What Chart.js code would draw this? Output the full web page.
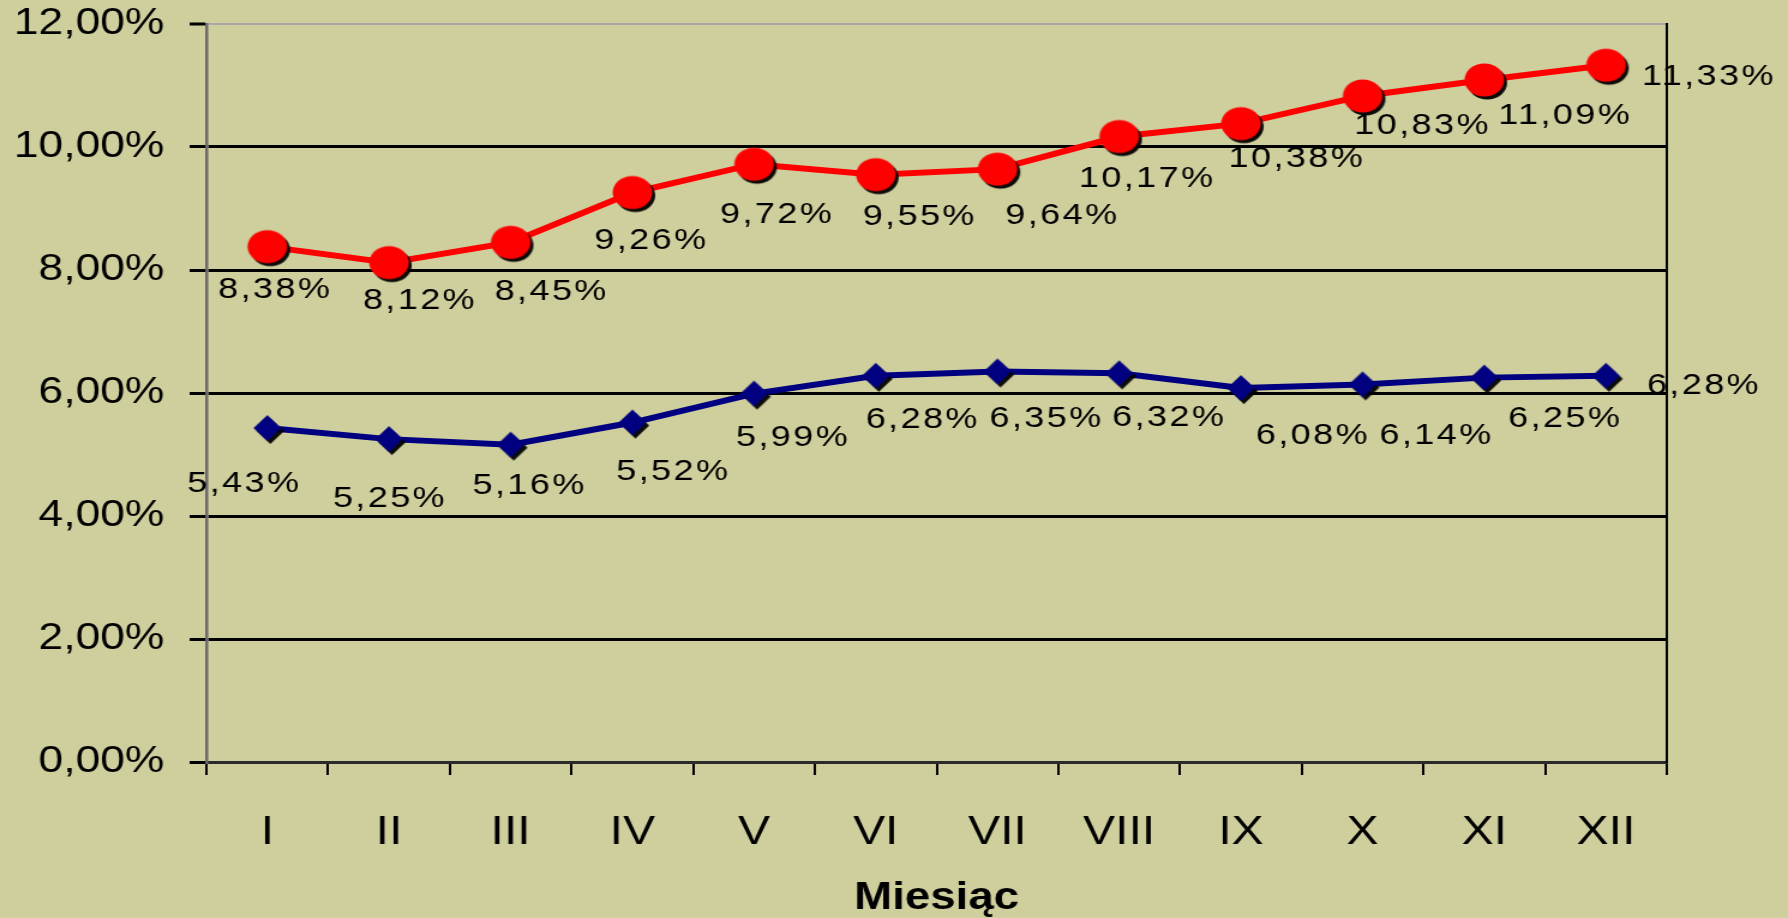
<!DOCTYPE html>
<html>
<head>
<meta charset="utf-8">
<script src="https://cdn.jsdelivr.net/npm/chart.js@4.4.0/dist/chart.umd.min.js"></script>
<style>
  html, body { margin: 0; padding: 0; background: #cfcf9e; overflow: hidden; }
  /* the source picture is stretched sideways, so the chart is drawn narrow and widened here */
  #wrap { width: 1490px; height: 918px; transform: scaleX(1.2); transform-origin: 0 0; }
  #chart { display: block; }
</style>
</head>
<body>
<div id="wrap"><canvas id="chart" width="1490" height="918"></canvas></div>
<script>
const months = ['I', 'II', 'III', 'IV', 'V', 'VI', 'VII', 'VIII', 'IX', 'X', 'XI', 'XII'];
const redValues = [8.38, 8.12, 8.45, 9.26, 9.72, 9.55, 9.64, 10.17, 10.38, 10.83, 11.09, 11.33];
const blueValues = [5.43, 5.25, 5.16, 5.52, 5.99, 6.28, 6.35, 6.32, 6.08, 6.14, 6.25, 6.28];
const yTickValues = [0, 2, 4, 6, 8, 10, 12];

// where each value label sits relative to its point, in picture pixels
const redLabelOffsets = [[8, 43], [31, 38], [41, 49], [19, 48], [23, 51], [44, 42], [65, 47], [28, 42], [56, 35], [60, 30], [81, 36], [103, 12]];
const blueLabelOffsets = [[-23, 56], [1, 60], [19, 41], [41, 49], [39, 44], [47, 44], [49, 47], [50, 44], [72, 48], [74, 51], [81, 41], [98, 10]];

const STRETCH = 1.2;

function pct(v) {
    return v.toFixed(2).replace('.', ',') + '%';
}

// markers with a hard black shadow, like the old office chart
function makeMarker(size, draw) {
    const c = document.createElement('canvas');
    c.width = size;
    c.height = size;
    const g = c.getContext('2d');
    g.shadowColor = 'rgba(0,0,0,0.95)';
    g.shadowOffsetX = 2.5;
    g.shadowOffsetY = 3;
    g.shadowBlur = 0;
    draw(g, size / 2);
    return c;
}

const redDot = makeMarker(46, function (g, m) {
    g.beginPath();
    g.arc(m, m, 16.5, 0, Math.PI * 2);
    g.fillStyle = '#ff0000';
    g.fill();
});

const blueDiamond = makeMarker(38, function (g, m) {
    g.beginPath();
    g.moveTo(m, m - 13);
    g.lineTo(m + 11.5, m);
    g.lineTo(m, m + 13);
    g.lineTo(m - 11.5, m);
    g.closePath();
    g.fillStyle = '#000080';
    g.fill();
});

const valueLabels = {
    id: 'valueLabels',
    afterDatasetsDraw(chart) {
        const ctx = chart.ctx;
        const offsets = [redLabelOffsets, blueLabelOffsets];
        ctx.save();
        ctx.font = '30px "Liberation Sans", Arial, sans-serif';
        ctx.letterSpacing = '2px';
        ctx.fillStyle = '#000';
        ctx.textAlign = 'center';
        ctx.textBaseline = 'middle';
        chart.data.datasets.forEach(function (ds, i) {
            const meta = chart.getDatasetMeta(i);
            meta.data.forEach(function (pt, j) {
                const off = offsets[i][j];
                ctx.fillText(pct(ds.data[j]), pt.x + off[0] / STRETCH, pt.y + off[1]);
            });
        });
        ctx.restore();
    }
};

new Chart(document.getElementById('chart'), {
    type: 'line',
    data: {
        labels: months,
        datasets: [{
            data: redValues,
            borderColor: '#ff0000',
            borderWidth: 6,
            pointStyle: redDot,
            pointRadius: 16,
            tension: 0
        }, {
            data: blueValues,
            borderColor: '#000080',
            borderWidth: 6,
            pointStyle: blueDiamond,
            pointRadius: 13,
            tension: 0
        }]
    },
    options: {
        responsive: false,
        devicePixelRatio: 1,
        animation: false,
        layout: { padding: { top: 24, right: 101, bottom: 0, left: 0 } },
        plugins: {
            legend: { display: false },
            tooltip: { enabled: false }
        },
        scales: {
            x: {
                type: 'category',
                offset: true,
                grid: {
                    offset: true,
                    drawOnChartArea: false,
                    color: '#000',
                    lineWidth: 2,
                    tickLength: 13
                },
                border: { color: '#2a2a2a', width: 3 },
                ticks: {
                    color: '#000',
                    padding: 34,
                    font: { family: '"Liberation Sans Narrow", "Liberation Sans", Arial, sans-serif', size: 40 }
                },
                title: {
                    display: true,
                    text: 'Miesiąc',
                    color: '#000',
                    padding: { top: 0, bottom: 0 },
                    font: { family: '"Liberation Sans", Arial, sans-serif', size: 38, weight: 'bold', lineHeight: 1 }
                },
                afterFit(scale) { scale.height = 156; }
            },
            y: {
                min: 0,
                max: 12,
                afterBuildTicks(scale) {
                    scale.ticks = yTickValues.map(v => ({ value: v }));
                },
                grid: {
                    color: c => c.tick && c.tick.value === 12 ? '#a9a9a9' : '#000',
                    lineWidth: c => c.tick && c.tick.value === 12 ? 2 : 3,
                    tickColor: '#000',
                    tickWidth: 3,
                    tickLength: 14
                },
                border: { color: '#6a6a6a', width: 2.5 },
                ticks: {
                    color: '#000',
                    padding: 21,
                    callback: v => pct(v),
                    font: { family: '"Liberation Sans", Arial, sans-serif', size: 37 }
                },
                afterFit(scale) {
                    scale.width = 172;
                    // let the plot reach the top edge like the original
                    scale.paddingTop = 0;
                    scale.paddingBottom = 0;
                }
            },
            y2: {
                position: 'right',
                min: 0,
                max: 12,
                grid: { drawOnChartArea: false, drawTicks: false },
                ticks: { display: false },
                border: { color: '#000', width: 2 },
                afterFit(scale) { scale.width = 0; }
            }
        }
    },
    plugins: [valueLabels]
});
</script>
</body>
</html>
